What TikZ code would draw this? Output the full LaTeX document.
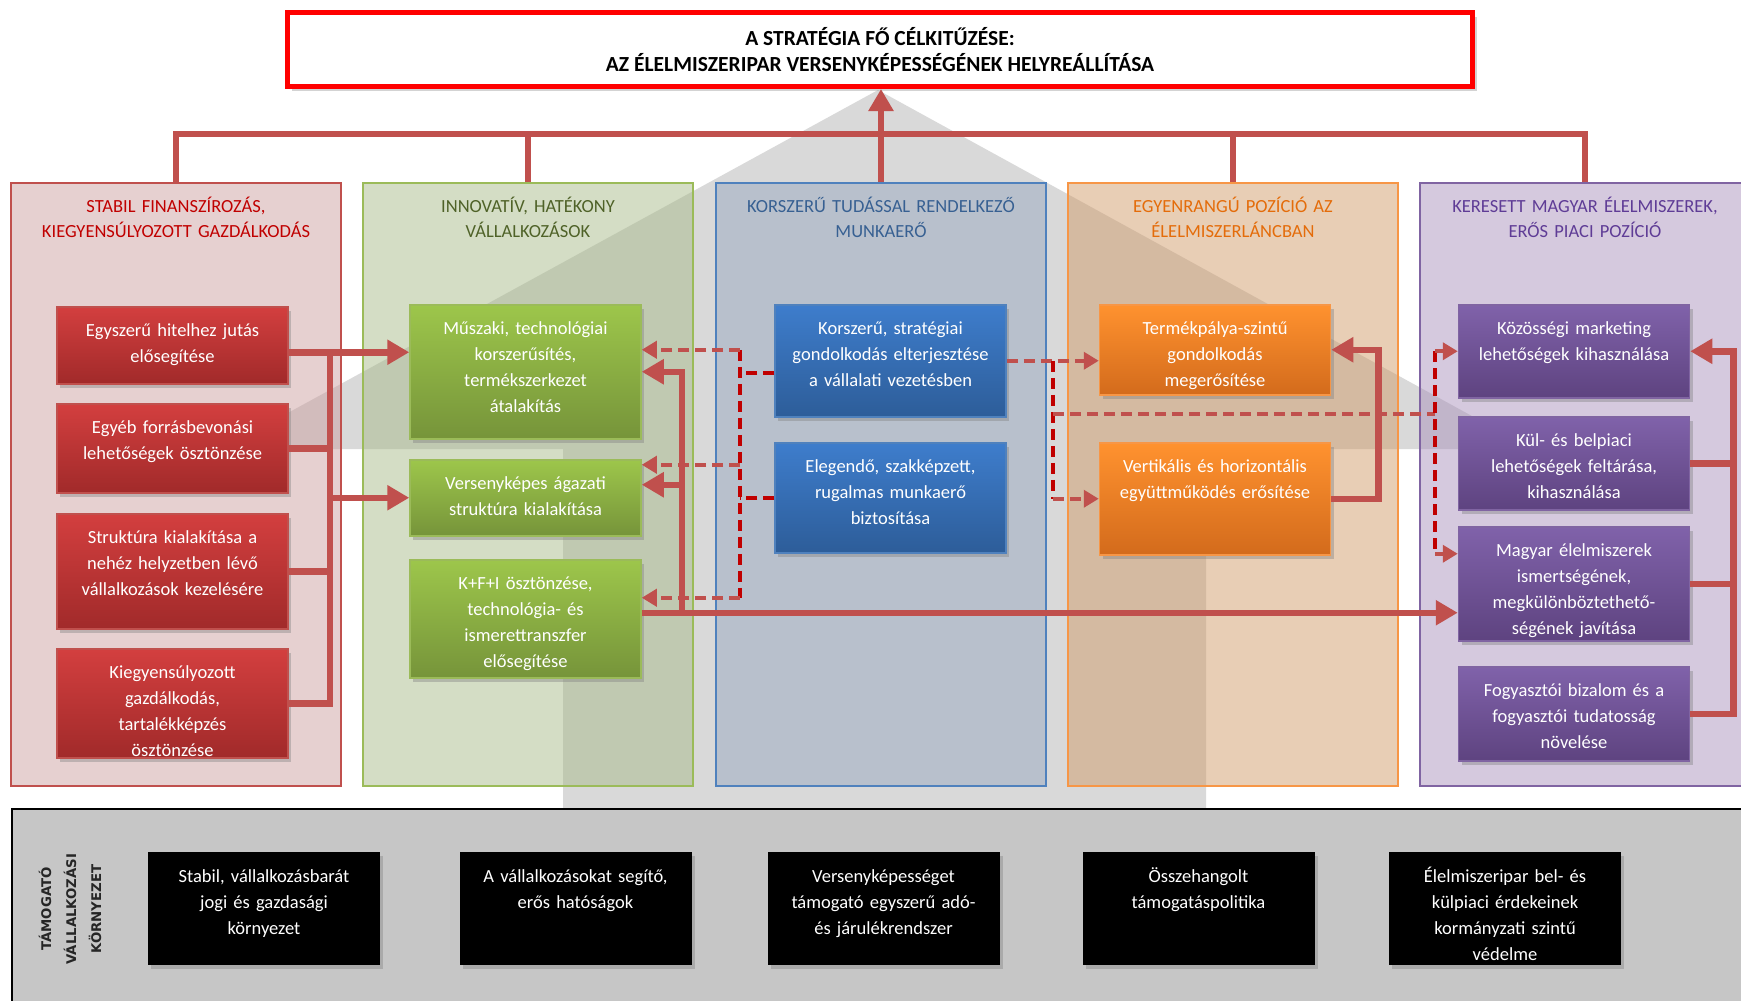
\documentclass[tikz,border=0pt]{standalone}
\usepackage{fontspec}
\setmainfont{Carlito}
\newfontfamily\sidefont{DejaVu Sans}
\usetikzlibrary{arrows.meta,shadows}
\definecolor{linkred}{HTML}{C0504D}
\definecolor{dashred}{HTML}{C00000}
\definecolor{envgray}{HTML}{C6C6C6}
\definecolor{sidetext}{HTML}{262626}
\definecolor{redtop}{HTML}{D33F3F}\definecolor{redbot}{HTML}{A12A2A}\definecolor{redline}{HTML}{C0504D}\definecolor{redfill}{HTML}{CDA1A1}\definecolor{redtext}{HTML}{C00000}
\definecolor{grntop}{HTML}{9DC64B}\definecolor{grnbot}{HTML}{76943A}\definecolor{grnline}{HTML}{9BBB59}\definecolor{grnfill}{HTML}{A9BB8B}\definecolor{grntext}{HTML}{4F6228}
\definecolor{blutop}{HTML}{3E7DCC}\definecolor{blubot}{HTML}{2D5D99}\definecolor{bluline}{HTML}{4F81BD}\definecolor{blufill}{HTML}{98A8C0}\definecolor{blutext}{HTML}{376092}
\definecolor{orgtop}{HTML}{FF922F}\definecolor{orgbot}{HTML}{D36B1C}\definecolor{orgline}{HTML}{F79646}\definecolor{orgfill}{HTML}{D19D6B}\definecolor{orgtext}{HTML}{E46C0A}
\definecolor{purtop}{HTML}{8062AA}\definecolor{purbot}{HTML}{5E4380}\definecolor{purline}{HTML}{8064A2}\definecolor{purfill}{HTML}{AB93BD}\definecolor{purtext}{HTML}{5F3C96}

\begin{document}
\begin{tikzpicture}[x=1pt,y=-1pt,
  col/.style={anchor=north,line width=2pt,fill opacity=0.5,text opacity=1,minimum width=330pt,inner ysep=0pt,text width=316pt,align=center,text height=29pt,text depth=574pt,font=\fontsize{18.5}{25}\selectfont},
  box/.style={anchor=north,line width=1.5pt,minimum width=231pt,inner xsep=3pt,inner ysep=0pt,text width=225pt,align=center,text=white,text height=29.5pt,font=\fontsize{18.5}{26}\selectfont,drop shadow={opacity=0.4,shadow xshift=3pt,shadow yshift=-4pt}},
  link/.style={linkred,line width=6.5pt},
  arr/.style={-{Triangle[length=22pt,width=24pt]}},
  dashv/.style={dashred,line width=4pt,dash pattern=on 11pt off 6pt},
  dashl/.style={linkred,line width=4pt,dash pattern=on 11pt off 6pt},
  dasha/.style={dashl,-{Triangle[length=15pt,width=17pt]}}]

\useasboundingbox (0,0) rectangle (1741,1001);
\clip (0,0) rectangle (1741,1001);

% big gray arrow behind the pillars
\fill[gray!30] (878,90) -- (1532,449) -- (1206,449) -- (1206,808) -- (563,808) -- (563,449) -- (222,449) -- cycle;

% pillars
\foreach \n/\x/\cc/\s in {c1/176/red/{STABIL FINANSZÍROZÁS,\\KIEGYENSÚLYOZOTT GAZDÁLKODÁS}, c2/528/grn/{INNOVATÍV, HATÉKONY\\VÁLLALKOZÁSOK}, c3/881/blu/{KORSZERŰ TUDÁSSAL RENDELKEZŐ\\MUNKAERŐ}, c4/1233/org/{EGYENRANGÚ POZÍCIÓ AZ\\ÉLELMISZERLÁNCBAN}, c5/1585/pur/{KERESETT MAGYAR ÉLELMISZEREK,\\ERŐS PIACI POZÍCIÓ}}
\node[col,draw=\cc line,fill=\cc fill,text=\cc text] (\n) at (\x,182) {\s};

% supporting environment
\node[draw=black,line width=2pt,fill=envgray,anchor=north west,minimum width=1745pt,minimum height=195pt] (env) at (11,808) {};
\node[rotate=90,align=center,text=sidetext,font=\sidefont\bfseries\fontsize{13.3}{25}\selectfont] (envlbl) at (70,909) {TÁMOGATÓ\\VÁLLALKOZÁSI\\KÖRNYEZET};

% main goal
\node[draw=red,line width=5pt,fill=white,minimum width=1185pt,minimum height=74pt,align=center,font=\bfseries\fontsize{21.5}{26}\selectfont,drop shadow={opacity=0.35,shadow xshift=4pt,shadow yshift=-4pt}] (goal) at (880,49.5) {A STRATÉGIA FŐ CÉLKITŰZÉSE:\\AZ ÉLELMISZERIPAR VERSENYKÉPESSÉGÉNEK HELYREÁLLÍTÁSA};

% boxes in the pillars
\foreach \n/\x/\y/\h/\cc/\s in {r1/172.5/306/77/red/{Egyszerű hitelhez jutás\\elősegítése}, r2/172.5/403/89/red/{Egyéb forrásbevonási\\lehetőségek ösztönzése}, r3/172.5/513/115/red/{Struktúra kialakítása a\\nehéz helyzetben lévő\\vállalkozások kezelésére}, r4/172.5/648/109/red/{Kiegyensúlyozott\\gazdálkodás,\\tartalékképzés\\ösztönzése}, g1/525.5/304/134/grn/{Műszaki, technológiai\\korszerűsítés,\\termékszerkezet\\átalakítás}, g2/525.5/459/76/grn/{Versenyképes ágazati\\struktúra kialakítása}, g3/525.5/559/118/grn/{K+F+I ösztönzése,\\technológia- és\\ismerettranszfer\\elősegítése}, b1/890.5/304/112/blu/{Korszerű, stratégiai\\gondolkodás elterjesztése\\a vállalati vezetésben}, b2/890.5/442/110/blu/{Elegendő, szakképzett,\\rugalmas munkaerő\\biztosítása}, o1/1215/304/90/org/{Termékpálya-szintű\\gondolkodás\\megerősítése}, o2/1215/442/112/org/{Vertikális és horizontális\\együttműködés erősítése}, p1/1574/304/93/pur/{Közösségi marketing\\lehetőségek kihasználása}, p2/1574/416/93/pur/{Kül- és belpiaci\\lehetőségek feltárása,\\kihasználása}, p3/1574/526/114/pur/{Magyar élelmiszerek\\ismertségének,\\megkülönböztethető-\\ségének javítása}, p4/1574/666/94/pur/{Fogyasztói bizalom és a\\fogyasztói tudatosság\\növelése}}
\node[box,top color=\cc top,bottom color=\cc bot,draw=\cc line,text depth={\h pt-29.5pt}] (\n) at (\x,\y) {\s};

\foreach \n/\x/\s in {k1/264/{Stabil, vállalkozásbarát\\jogi és gazdasági\\környezet}, k2/575.5/{A vállalkozásokat segítő,\\erős hatóságok}, k3/883.5/{Versenyképességet\\támogató egyszerű adó-\\és járulékrendszer}, k4/1198.5/{Összehangolt\\támogatáspolitika}, k5/1505/{Élelmiszeripar bel- és\\külpiaci érdekeinek\\kormányzati szintű\\védelme}}
\node[box,fill=black,minimum width=232pt,text height=31pt,text depth=82pt] (\n) at (\x,851) {\s};

% pillars up to the goal
\coordinate (bar) at (0,134);
\draw[link] (c1.north) |- (bar -| c5.north) -- (c5.north);
\foreach \c in {c2,c4} \draw[link] (\c.north) -- (\c.north |- bar);
\draw[link,arr] (c3.north) -- (c3.north |- goal.south);

% red pillar
\coordinate (rbus) at (330,0);
\coordinate (r1o) at ([yshift=-7pt]r1.east);
\draw[link] (r1o) -| (rbus |- r4.east) -- (r4.east);
\draw[link] (r2.east) -- (rbus |- r2.east);
\draw[link] (r3.east) -- (rbus |- r3.east);
\draw[link,arr] (rbus |- r1o) -- (g1.west |- r1o);
\draw[link,arr] (rbus |- g2.west) -- (g2.west);

% green pillar
\coordinate (gbus) at (682,0);
\coordinate (g3o) at ([yshift=6pt]g3.east);
\coordinate (g2o) at ([yshift=13pt]g2.east);
\draw[link,arr] (g3o) -- (p3.west |- g3o);
\draw[link,arr] (gbus |- g3o) |- (g1.east);
\draw[link,arr] (gbus |- g2o) -- (g2o);

% dashed links from the workforce
\coordinate (dbus) at (740,0);
\coordinate (b1o) at ([yshift=-12pt]b1.west);
\coordinate (g1d) at ([yshift=22pt]g1.east);
\coordinate (g2d) at ([yshift=33pt]g2.east);
\coordinate (g3d) at ([yshift=21pt]g3.east);
\draw[dashv] (b1o) -- (dbus |- b1o);
\draw[dashv] (b2.west) -- (dbus |- b2.west);
\draw[dashv] (dbus |- g1d) -- (dbus |- g3d);
\foreach \g in {g1d,g2d,g3d} \draw[dasha] (dbus |- \g) -- (\g);

\coordinate (obus) at (1053,0);
\coordinate (pbus) at (1435,0);
\coordinate (dmid) at (1053,414);
\coordinate (p3d) at ([yshift=30pt]p3.west);
\draw[dasha] (b1.east) -- (o1.west |- b1.east);
\draw[dashv] (obus |- b1.east) -- (obus |- o2.west);
\draw[dasha] (obus |- o2.west) -- (o2.west);
\draw[dashl] (dmid) -- (pbus |- dmid);
\draw[dashv] (pbus |- p1.west) -- (pbus |- p3d);
\draw[dasha] (pbus |- p1.west) -- (p1.west);
\draw[dasha] (pbus |- p3d) -- (p3d);

% orange and purple pillars
\draw[link,arr] (o2.east) -- ++(47,0) |- (o1.east);
\draw[link,arr] (p4.east) -- ++(43,0) |- (p1.east);
\draw[link] (p2.east) -- ++(43,0);
\draw[link] (p3.east) -- ++(43,0);

\end{tikzpicture}
\end{document}
